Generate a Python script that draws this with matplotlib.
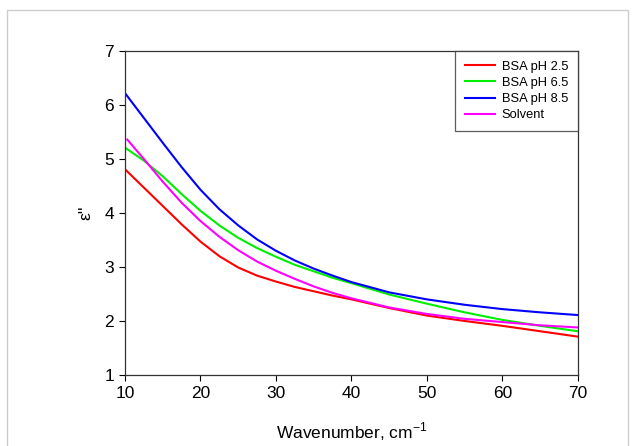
import matplotlib
matplotlib.use("Agg")
import matplotlib.pyplot as plt
from matplotlib.patches import Rectangle

# data (wavenumber in cm^-1, epsilon'')
wavenumber = [10, 12.5, 15, 17.5, 20, 22.5, 25, 27.5, 30, 32.5, 35, 37.5,
              40, 45, 50, 55, 60, 65, 70]
bsa_ph25 = [4.81, 4.47, 4.13, 3.79, 3.47, 3.20, 2.99, 2.84, 2.73, 2.63, 2.55, 2.47,
            2.40, 2.24, 2.10, 2.00, 1.91, 1.81, 1.71]
bsa_ph65 = [5.21, 4.97, 4.68, 4.35, 4.04, 3.77, 3.54, 3.35, 3.19, 3.04, 2.92, 2.80,
            2.70, 2.49, 2.32, 2.16, 2.02, 1.91, 1.81]
bsa_ph85 = [6.22, 5.76, 5.30, 4.85, 4.43, 4.07, 3.77, 3.51, 3.30, 3.12, 2.97, 2.84,
            2.72, 2.53, 2.40, 2.30, 2.22, 2.16, 2.11]
solvent_x = [10.3] + wavenumber[1:]
solvent = [5.36, 5.00, 4.58, 4.19, 3.85, 3.56, 3.31, 3.10, 2.93, 2.78, 2.64, 2.52,
           2.42, 2.25, 2.13, 2.04, 1.98, 1.92, 1.88]

series = [
    ("BSA pH 2.5", wavenumber, bsa_ph25, "#ff0000"),
    ("BSA pH 6.5", wavenumber, bsa_ph65, "#00ee00"),
    ("BSA pH 8.5", wavenumber, bsa_ph85, "#0000ff"),
    ("Solvent", solvent_x, solvent, "#ff00ff"),
]

plt.rcParams["font.family"] = ["Liberation Sans", "DejaVu Sans"]

fig = plt.figure(figsize=(6.39, 4.46), dpi=100)
ax = fig.add_axes([0.1956, 0.1592, 0.7089, 0.7265])

for label, xs, ys, color in series:
    ax.plot(xs, ys, color=color, lw=1.5, label=label)

ax.set_xlim(10, 70)
ax.set_ylim(1, 7)
ax.set_xticks(range(10, 71, 10))
ax.set_yticks(range(1, 8))
ax.tick_params(direction="out", length=4, width=0.8, labelsize=12.5, pad=4,
               top=False, right=False)
for sp in ax.spines.values():
    sp.set_linewidth(0.9)
    sp.set_color("#333333")

ax.set_xlabel("Wavenumber, cm$^{\\mathregular{-1}}$", fontsize=12.5, labelpad=14)
ax.set_ylabel("ε''", fontsize=12.5, labelpad=8)

leg = ax.legend(loc="upper right", fontsize=9.3, frameon=True, fancybox=False,
                handlelength=2.3, handletextpad=0.55, borderpad=0.75,
                labelspacing=0.32, borderaxespad=0)
leg.get_frame().set_edgecolor("#333333")
leg.get_frame().set_linewidth(0.9)

# light grey frame around the figure (bottom edge is cut off)
fig.patches.append(Rectangle((7 / 639, -0.05), 621 / 639, 1.05 - 10 / 446,
                             transform=fig.transFigure, fill=False,
                             edgecolor="#cccccc", lw=1.0))

fig.savefig("out.png", dpi=100)
